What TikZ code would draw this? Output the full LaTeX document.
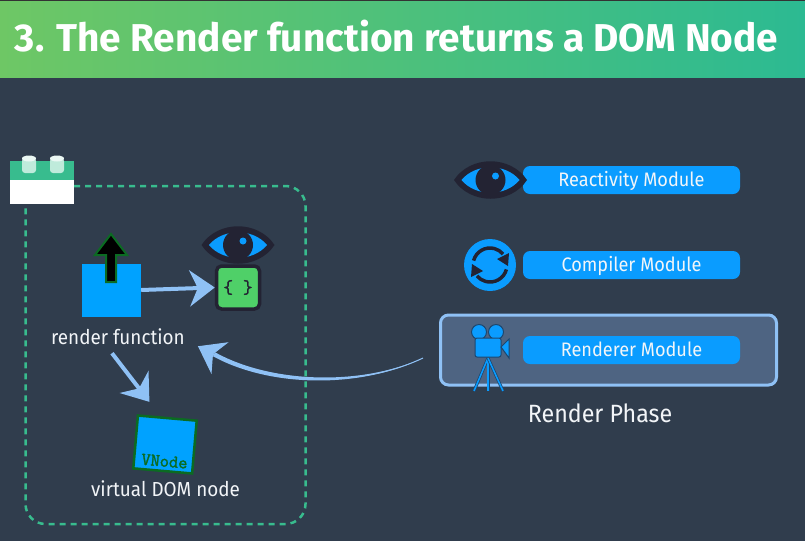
\documentclass[tikz,border=0pt]{standalone}
\usepackage{fontspec}
\setmainfont[FakeStretch=0.93]{Fira Sans}
\newfontfamily\titlefont{Fira Sans}
\newfontfamily\slabfont[FakeBold=1.5]{Latin Modern Mono}
\usetikzlibrary{arrows.meta, positioning, shadings}

\definecolor{slatebg}{HTML}{303D4D}
\definecolor{barleft}{HTML}{6EC765}
\definecolor{barright}{HTML}{2CBA92}
\definecolor{brickgreen}{HTML}{38BC8E}
\definecolor{studlight}{HTML}{BFEBDB}
\definecolor{vueblue}{HTML}{0A9CFF}
\definecolor{boxblue}{HTML}{00A2FF}
\definecolor{sketchblue}{HTML}{8FC1F5}
\definecolor{panelblue}{HTML}{4E6482}
\definecolor{inkdark}{HTML}{232333}
\definecolor{stategreen}{HTML}{4FD068}
\definecolor{darkgreen}{HTML}{0B6B22}
\definecolor{softwhite}{HTML}{F2F5F8}

\tikzset{
  modulebox/.style={fill=vueblue, rounded corners=7pt, minimum width=217pt, minimum height=28pt,
        inner sep=0pt, text height=17.4pt, text depth=4pt, text=softwhite, font=\fontsize{19.5}{23}\selectfont},
  caption/.style={inner sep=1pt, text=softwhite, font=\fontsize{20.3}{24}\selectfont},
  sketcharrow/.style={-{Stealth[length=25pt, width=36pt, inset=8pt]}, line width=4pt, sketchblue},
  eyeicon/.pic={
    \fill[inkdark] (-36.5,0) .. controls (-20,-25) and (20,-25) .. (36.5,0)
      .. controls (20,25) and (-20,25) .. (-36.5,0) -- cycle;
    \fill[vueblue] (-29,0) .. controls (-15,-17) and (15,-17) .. (29,0)
      .. controls (15,17) and (-15,17) .. (-29,0) -- cycle;
    \fill[inkdark] (0,0) circle (15);
    \fill[vueblue] (5,4) circle (3.5);
  }
}

\begin{document}
\begin{tikzpicture}[x=1pt, y=1pt, >=Stealth]
  \useasboundingbox (0,0) rectangle (805,-541);
  \fill[slatebg] (0,0) rectangle (805,-541);

  % Title bar
  \shade[left color=barleft, right color=barright] (0,-1) rectangle (805,-77);
  \fill[black!80] (0,0) rectangle (805,-1);
  \node[font=\titlefont\fontsize{38.8}{46}\selectfont\bfseries, text=white, anchor=base] (title) at (396.5,-51)
    {3. The Render function returns a DOM Node};

  % Brick with its studs
  \node[fill=white, minimum width=64pt, minimum height=43pt, inner sep=0pt] (brick) at (42,-182.5) {};
  \fill[brickgreen] (brick.north west) rectangle (74,-180);
  \foreach \studx in {29, 57} {
    \fill[studlight, rounded corners=3pt] (\studx-7,-158) rectangle (\studx+7,-173);
    \fill[white!90!brickgreen] (\studx,-158.5) ellipse (7 and 3);
  }

  % Render function and state
  \node[fill=boxblue, minimum width=59pt, minimum height=53pt, inner sep=0pt] (rfbox) at (111.5,-290) {};
  \node[caption] (rflabel) at (118,-337) {render function};
  \node[fill=stategreen, draw=inkdark, line width=3.5pt, rounded corners=5pt, minimum width=43pt,
        minimum height=43pt, inner sep=0pt, font=\slabfont\fontsize{19}{20}\selectfont,
        text=inkdark] (statebox) at (238,-287.5) {\{ \}};
  \pic at (238,-245) {eyeicon};
  \draw[fill=black, draw=darkgreen, line width=2pt, line join=miter]
    (111,-234) -- (127,-255) -- (116,-255) -- (116,-282) -- (106,-282) -- (106,-255) -- (95,-255) -- cycle;

  % VNode
  \node[fill=boxblue, draw=darkgreen, line width=2.5pt, rotate=-5, minimum width=59pt, minimum height=53pt,
        inner sep=0pt] (vnode) at (165,-444.5) {};
  \node[font=\slabfont\fontsize{18}{20}\selectfont, text=darkgreen, rotate=-5, inner sep=0pt,
        below=11pt of vnode.center] (vnodetext) {VNode};
  \node[caption, below=7pt of vnode, xshift=3pt] (vlabel) {virtual DOM node};

  % Modules
  \node[modulebox] (reactivity) at (631.5,-180) {Reactivity Module};
  \node[modulebox] (compiler) at (631.5,-265) {Compiler Module};
  \pic at (490.5,-180) {eyeicon};
  \fill[vueblue] (490,-265) circle (26);
  \draw[inkdark, line width=3.5pt] (473.6,-260.6) arc (165:40:17);
  \fill[inkdark] (509,-253) -- (508,-266) -- (497,-259) -- cycle;
  \draw[inkdark, line width=3.5pt] (506.4,-269.4) arc (345:220:17);
  \fill[inkdark] (471,-277) -- (472,-264) -- (483,-271) -- cycle;

  % Render phase
  \node[fill=panelblue, draw=sketchblue, line width=3pt, rounded corners=8pt, minimum width=336pt,
        minimum height=70pt, inner sep=0pt] (panel) at (608.5,-350) {};
  \node[modulebox] (renderer) at (631.5,-350) {Renderer Module};
  \node[caption, font=\fontsize{25}{30}\selectfont, below=16pt of panel, xshift=-8.5pt] (phase) {Render Phase};
  \foreach \legx in {474, 488, 503} {
    \draw[inkdark!70!vueblue, line width=3pt] (488,-358) -- (\legx,-391);
    \draw[vueblue, line width=1.5pt] (488,-358) -- (\legx,-391);
  }
  \filldraw[fill=vueblue, draw=inkdark!70!vueblue, line width=1pt]
    (479,-332) circle (7.5) (496,-332) circle (7.5);
  \filldraw[fill=vueblue, draw=inkdark!70!vueblue, line width=1pt, rounded corners=2pt]
    (475,-338) rectangle (501,-357);
  \filldraw[fill=vueblue, draw=inkdark!70!vueblue, line width=1pt]
    (501,-347) -- (509,-339) -- (509,-358) -- cycle;

  % Sketched arrows
  \coordinate (rendertail) at (423,-358);
  \coordinate (rendertip) at ([xshift=12pt]rflabel.south east);
  \draw[sketcharrow] (rfbox.east) -- (statebox.west);
  \draw[sketcharrow] (rflabel.south) ++(-6,-7) -- ([xshift=-18pt,yshift=15pt]vnode.north);
  \draw[sketcharrow, line width=1pt] (rendertail) .. controls (360,-388) and (270,-385) .. (rendertip);
  \fill[sketchblue] (rendertail) .. controls (360,-386.5) and (270,-383) .. ([shift={(17,-6)}]rendertip)
    -- ([shift={(15,-10)}]rendertip) .. controls (270,-387.5) and (360,-389) .. (rendertail) -- cycle;

  % Dashed component frame
  \draw[brickgreen, line width=2.5pt, dash pattern=on 6pt off 5pt, rounded corners=20pt]
    ([yshift=-3.5pt]brick.east) -| (305.5,-524) -| ([xshift=-16.5pt,yshift=-3pt]brick.south);
\end{tikzpicture}
\end{document}
